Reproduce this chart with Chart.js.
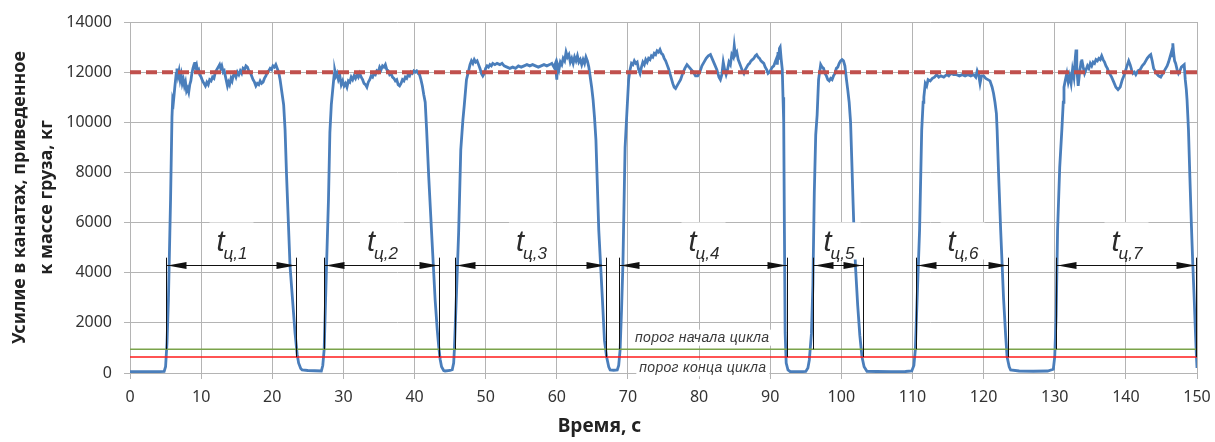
<!DOCTYPE html>
<html>
<head>
<meta charset="utf-8">
<script src="https://cdn.jsdelivr.net/npm/chart.js@4.4.1/dist/chart.umd.min.js"></script>
<style>
  html, body { margin: 0; padding: 0; background: #fff; }
</style>
</head>
<body>
<canvas id="grafico" width="1215" height="442"></canvas>
<script>
// усилие в канатах, [время с, кг]
const signal = [
  [0, 50], [1, 50], [2, 55], [3, 50], [4, 55], [4.8, 60],
  [5.0, 250], [5.2, 1200], [5.4, 2900], [5.7, 6900], [5.9, 10200], [6.0, 10900], [6.1, 10800], [6.3, 11400], [6.5, 11950],
  [6.6, 12150], [6.75, 11850], [6.9, 12050], [7.05, 11700], [7.2, 11900], [7.35, 11550], [7.5, 11700], [7.65, 11450],
  [7.8, 11600], [7.95, 11250], [8.1, 11350], [8.25, 11200], [8.4, 11500], [8.55, 11650], [8.7, 11950], [8.85, 12150],
  [9.0, 12300], [9.1, 12400], [9.2, 12200], [9.35, 12300], [9.5, 12050], [9.65, 12100], [9.8, 11900], [10.0, 11800],
  [10.2, 11650], [10.4, 11550], [10.6, 11450], [10.8, 11600], [11.0, 11500], [11.2, 11700], [11.4, 11650], [11.6, 11800],
  [11.8, 11750], [12.0, 12000], [12.2, 12100], [12.4, 12200], [12.6, 12300], [12.75, 12150], [12.9, 12250], [13.1, 12000],
  [13.25, 12050], [13.4, 11850], [13.55, 11650], [13.7, 11450], [13.85, 11600], [14.0, 11500], [14.2, 11750], [14.35, 11650],
  [14.5, 11850], [14.7, 11950], [14.9, 11800], [15.1, 12000], [15.3, 11900], [15.5, 12050], [15.7, 11950], [15.9, 12150],
  [16.1, 12100], [16.3, 12250], [16.5, 12200], [16.7, 12050], [16.9, 12000], [17.1, 11850], [17.3, 11700], [17.5, 11600],
  [17.7, 11450], [17.9, 11550], [18.1, 11500], [18.3, 11650], [18.5, 11550], [18.7, 11600], [18.9, 11750], [19.1, 11850],
  [19.3, 12000], [19.5, 12050], [19.7, 12150], [19.9, 12100], [20.1, 12250], [20.3, 12200], [20.5, 12300], [20.7, 12150],
  [20.9, 12000], [21.1, 11700], [21.3, 11300], [21.45, 11000],
  [21.6, 10700], [21.8, 9700], [22.0, 7950], [22.5, 4250], [23.2, 1600], [23.5, 750], [23.7, 400], [24.0, 180], [24.2, 120],
  [25.0, 100], [26.0, 90], [26.9, 80],
  [27.1, 300], [27.3, 950], [27.6, 4000], [27.9, 6900], [28.1, 9600], [28.3, 10700], [28.5, 11300], [28.7, 11900], [28.8, 12050],
  [28.95, 11850], [29.1, 11950], [29.3, 11700], [29.5, 11850], [29.7, 11500], [29.9, 11650], [30.1, 11450], [30.3, 11550],
  [30.5, 11400], [30.7, 11650], [30.9, 11600], [31.1, 11800], [31.3, 11700], [31.5, 11850], [31.7, 11750], [31.9, 11900],
  [32.1, 11800], [32.3, 11950], [32.5, 11800], [32.7, 11700], [32.9, 11550], [33.1, 11500], [33.3, 11400], [33.5, 11600],
  [33.7, 11700], [33.9, 11850], [34.1, 11800], [34.3, 11950], [34.5, 11900], [34.7, 12050], [34.9, 12000], [35.1, 12200],
  [35.3, 12100], [35.5, 12250], [35.7, 12200], [35.9, 12300], [36.1, 12100], [36.3, 12050], [36.5, 11900], [36.7, 11950],
  [36.9, 11800], [37.1, 11750], [37.3, 11650], [37.5, 11700], [37.7, 11500], [37.9, 11450], [38.1, 11550], [38.3, 11700],
  [38.5, 11650], [38.7, 11800], [38.9, 11750], [39.1, 11900], [39.3, 11850], [39.5, 12000], [39.7, 11950], [39.9, 12050],
  [40.1, 12000], [40.3, 12050], [40.5, 11950], [40.7, 11900], [40.9, 11700], [41.1, 11450], [41.3, 11100], [41.5, 10800],
  [41.7, 9700], [42.0, 7800], [42.4, 5600], [42.9, 2900], [43.2, 1700], [43.4, 1050], [43.6, 550], [43.8, 250], [44.1, 100],
  [44.3, 80], [45.0, 100], [45.3, 130],
  [45.5, 400], [45.6, 920], [45.9, 3200], [46.2, 5600], [46.5, 8900], [46.8, 10100], [47.0, 10700], [47.3, 11700], [47.6, 12050],
  [47.8, 12300], [48.0, 12450], [48.2, 12350], [48.4, 12500], [48.6, 12400], [48.8, 12450], [49.0, 12300], [49.2, 12150],
  [49.4, 11950], [49.6, 11850], [49.8, 11950], [50.0, 12150], [50.2, 12250], [50.4, 12200], [50.6, 12300], [50.8, 12250],
  [51.0, 12350], [51.3, 12300], [51.6, 12350], [52.0, 12300], [52.3, 12350], [52.6, 12250], [53.0, 12200], [53.4, 12150],
  [53.8, 12200], [54.2, 12150], [54.6, 12250], [55.0, 12200], [55.4, 12250], [55.8, 12300], [56.2, 12250], [56.6, 12300],
  [57.0, 12250], [57.4, 12200], [57.8, 12250], [58.2, 12300], [58.6, 12250], [59.0, 12300], [59.3, 12350], [59.6, 12200],
  [59.8, 12350], [60.0, 11700], [60.1, 12300], [60.3, 12100], [60.5, 12400], [60.7, 12300], [60.9, 12550], [61.1, 12450],
  [61.3, 12800], [61.5, 12600], [61.7, 12700], [61.9, 12400], [62.1, 12550], [62.3, 12350], [62.5, 12600], [62.7, 12450],
  [62.9, 12650], [63.1, 12400], [63.3, 12500], [63.5, 12300], [63.7, 12500], [63.9, 12350], [64.1, 12600], [64.3, 12450],
  [64.5, 12200], [64.7, 11800], [64.9, 11400], [65.1, 10900], [65.3, 10200],
  [65.5, 9300], [65.9, 5700], [66.4, 3000], [66.7, 1300], [67.0, 650], [67.3, 250], [67.5, 120], [68.0, 110], [68.5, 120],
  [68.7, 300],
  [68.9, 920], [69.1, 2500], [69.3, 4400], [69.5, 7500], [69.6, 9000], [69.8, 10100], [70.1, 11700], [70.3, 12100], [70.5, 12350],
  [70.7, 12300], [70.9, 12450], [71.1, 12350], [71.3, 12400], [71.5, 12100], [71.7, 11950], [71.9, 12200], [72.1, 12400],
  [72.3, 12300], [72.5, 12500], [72.7, 12400], [72.9, 12550], [73.1, 12500], [73.3, 12650], [73.5, 12600], [73.7, 12750],
  [73.9, 12700], [74.1, 12850], [74.3, 12800], [74.5, 12900], [74.7, 12750], [74.9, 12700], [75.1, 12550], [75.3, 12450],
  [75.5, 12300], [75.7, 12150], [75.9, 11950], [76.1, 11750], [76.3, 11550], [76.5, 11400], [76.7, 11350], [76.9, 11450],
  [77.1, 11550], [77.4, 11700], [77.7, 11950], [78.0, 12150], [78.3, 12300], [78.6, 12200], [78.9, 12100], [79.2, 12000],
  [79.5, 11850], [79.8, 11850], [80.1, 12000], [80.4, 12250], [80.7, 12400], [81.0, 12550], [81.3, 12650], [81.6, 12700],
  [81.9, 12500], [82.2, 12300], [82.5, 12100], [82.8, 11800], [83.0, 11700], [83.2, 11900], [83.4, 12400], [83.6, 12100],
  [83.8, 11900], [84.0, 12100], [84.2, 12400], [84.4, 12300], [84.6, 12700], [84.8, 12600], [84.95, 13050], [85.1, 12700],
  [85.3, 12800], [85.5, 12500], [85.7, 12350], [85.9, 12200], [86.1, 12050], [86.3, 11950], [86.5, 12100], [86.7, 12200],
  [86.9, 12300], [87.1, 12350], [87.3, 12450], [87.5, 12500], [87.7, 12550], [87.9, 12650], [88.1, 12700], [88.3, 12600],
  [88.5, 12550], [88.7, 12450], [88.9, 12400], [89.1, 12350], [89.3, 12200], [89.5, 12100], [89.7, 11950], [89.9, 12000],
  [90.1, 12100], [90.3, 12200], [90.5, 12250], [90.7, 12400], [90.9, 12550], [91.0, 12300], [91.1, 12800], [91.2, 12500],
  [91.3, 12950], [91.4, 13000], [91.55, 12500], [91.7, 12100],
  [91.8, 11000], [91.9, 10000], [92.0, 5600], [92.1, 1600], [92.25, 400], [92.5, 120], [92.8, 60], [94.0, 50], [95.0, 60],
  [95.3, 200],
  [95.5, 520], [95.8, 1580], [96.0, 3500], [96.2, 7200], [96.4, 9500], [96.6, 10300], [96.8, 11700], [97.1, 12300],
  [97.3, 12200], [97.5, 12150], [97.7, 11950], [97.9, 11850], [98.1, 11700], [98.3, 11650], [98.5, 11750], [98.7, 11700],
  [98.9, 11850], [99.1, 11950], [99.3, 12150], [99.5, 12200], [99.7, 12350], [99.9, 12450], [100.1, 12500], [100.3, 12450],
  [100.5, 12250], [100.7, 11750], [100.9, 11300], [101.1, 10800], [101.3, 10000],
  [101.5, 8200], [101.65, 6800], [101.8, 5500], [102.0, 4200], [102.3, 2700], [102.6, 1500], [102.9, 650], [103.2, 250],
  [103.6, 70], [105, 60], [107, 55], [109, 60], [109.9, 80], [110.2, 300],
  [110.4, 920], [110.7, 3300], [111.0, 5700], [111.3, 9700], [111.5, 10800], [111.6, 11000],
  [111.8, 11550], [112.0, 11450], [112.2, 11700], [112.5, 11650], [112.8, 11750], [113.1, 11800], [113.4, 11900],
  [113.7, 11800], [114.0, 11850], [114.4, 11800], [114.8, 11900], [115.1, 11850], [115.4, 11950], [115.8, 11900],
  [116.2, 11900], [116.6, 11850], [117.0, 11900], [117.4, 11850], [117.8, 11900], [118.2, 11850], [118.6, 11900],
  [118.9, 11800], [119.1, 12050], [119.3, 11900], [119.5, 11550], [119.7, 11850], [120.0, 11850], [120.3, 11750],
  [120.6, 11700], [120.9, 11650], [121.2, 11400], [121.4, 11150], [121.6, 10800], [121.8, 10350], [121.9, 9700],
  [122.1, 8000], [122.4, 5700], [122.8, 3000], [123.1, 1500], [123.3, 650], [123.6, 250], [123.8, 120], [125, 80],
  [127, 70], [129, 80], [129.8, 150],
  [130.0, 650], [130.2, 2300], [130.4, 5700], [130.7, 8200], [131.0, 9700], [131.2, 10800], [131.3, 11400], [131.5, 11700],
  [131.7, 11950],
  [131.9, 11600], [132.1, 11850], [132.3, 11550], [132.5, 12100], [132.7, 11800], [132.9, 12600], [133.0, 12900],
  [133.1, 12200], [133.2, 11800], [133.3, 11450], [133.5, 12000], [133.7, 12400], [133.8, 12500], [134.0, 12200],
  [134.2, 11950], [134.4, 12100], [134.6, 12250], [134.8, 12150], [135.0, 12350], [135.2, 12250], [135.4, 12400],
  [135.6, 12350], [135.8, 12500], [136.0, 12450], [136.2, 12550], [136.4, 12500], [136.6, 12650], [136.8, 12500],
  [137.0, 12400], [137.2, 12250], [137.4, 12150], [137.6, 12000], [137.8, 11900], [138.0, 11800], [138.3, 11600],
  [138.6, 11400], [138.9, 11300], [139.2, 11400], [139.5, 11700], [139.8, 11900], [140.1, 12200], [140.4, 12450],
  [140.6, 12300], [140.8, 12100], [141.0, 11950], [141.2, 12000], [141.4, 11900], [141.7, 12050], [142.0, 12100],
  [142.3, 12250], [142.6, 12350], [142.8, 12450], [143.0, 12550], [143.3, 12650], [143.5, 12700], [143.7, 12450],
  [143.9, 12150], [144.1, 12050], [144.3, 11950], [144.6, 11850], [144.9, 11800], [145.2, 11950], [145.5, 12100],
  [145.8, 12250], [146.0, 12400], [146.2, 12600], [146.4, 12800], [146.5, 12650], [146.6, 13150], [146.7, 12800],
  [146.85, 12450], [147.0, 12350], [147.2, 12100], [147.4, 11950], [147.6, 12050], [147.8, 12200], [148.0, 12250],
  [148.2, 12300], [148.35, 11700], [148.5, 11300], [148.6, 10900],
  [148.8, 9700], [149.0, 7800], [149.2, 6000], [149.4, 4400], [149.6, 3000], [149.8, 1500], [149.9, 800], [150.0, 200]
];

const nominalLoad = 12000;   // кг
const startLevel = 950;      // порог начала цикла
const endLevel = 640;        // порог конца цикла

// границы циклов, с
const cycleStart = [5.0, 27.3, 45.7, 68.8, 96.0, 110.5, 130.2];
const cycleEnd = [23.4, 43.5, 66.9, 92.4, 103.0, 123.4, 149.9];
const cycleLabels = ['ц,1', 'ц,2', 'ц,3', 'ц,4', 'ц,5', 'ц,6', 'ц,7'];
const arrowLevel = 4300;
const markTop = 4600;

const xMin = 0, xMax = 150, xStep = 10;
const yMin = 0, yMax = 14000, yStep = 2000;
const xTitle = 'Время, с';

const gridColor = '#b4b4b4';
const tickFont = { family: '"Noto Sans"', size: 16 };

function horiz(v) {
  return [{ x: xMin, y: v }, { x: xMax, y: v }];
}

const annotate = {
  id: 'annotate',
  afterDatasetsDraw(chart) {
    const { ctx, scales: { x, y } } = chart;
    ctx.save();
    const ay = Math.round(y.getPixelForValue(arrowLevel)) + 0.5;
    const top = y.getPixelForValue(markTop);

    // подписи порогов
    ctx.font = 'italic 14px "Liberation Sans"';
    ctx.letterSpacing = '0.3px';
    ctx.textBaseline = 'alphabetic';
    const thr = [
      ['порог начала цикла', 71.0, 1250],
      ['порог конца цикла', 71.6, 30]
    ];
    thr.forEach(function (t) {
      const px = x.getPixelForValue(t[1]);
      const py = y.getPixelForValue(t[2]);
      const w = ctx.measureText(t[0]).width;
      ctx.fillStyle = '#fff';
      ctx.fillRect(px - 3, py - 12, w + 6, 16);
      ctx.fillStyle = '#3a3a3a';
      ctx.fillText(t[0], px, py);
    });
    ctx.letterSpacing = '0px';

    cycleStart.forEach(function (s, i) {
      const x0 = Math.round(x.getPixelForValue(s)) + 0.5;
      const x1 = Math.round(x.getPixelForValue(cycleEnd[i])) + 0.5;
      const cx = (x0 + x1) / 2;

      // фон подписи
      ctx.fillStyle = '#fff';
      ctx.fillRect(cx - 22, ay - 43, 44, 37);
      ctx.fillStyle = '#2a2a2a';
      ctx.font = 'italic 29px "Liberation Sans"';
      ctx.fillText('t', cx - 15, ay - 15);
      ctx.font = 'italic 17px "Liberation Sans"';
      ctx.fillText(cycleLabels[i], cx - 8, ay - 7);

      // выносные линии
      ctx.strokeStyle = '#111';
      ctx.lineWidth = 1;
      ctx.beginPath();
      ctx.moveTo(x0, top);
      ctx.lineTo(x0, y.getPixelForValue(startLevel));
      ctx.moveTo(x1, top);
      ctx.lineTo(x1, y.getPixelForValue(endLevel));
      ctx.moveTo(x0, ay);
      ctx.lineTo(x1, ay);
      ctx.stroke();

      // стрелки
      ctx.fillStyle = '#111';
      ctx.beginPath();
      ctx.moveTo(x0 + 1, ay);
      ctx.lineTo(x0 + 20, ay - 3.5);
      ctx.lineTo(x0 + 20, ay + 3.5);
      ctx.closePath();
      ctx.moveTo(x1 - 1, ay);
      ctx.lineTo(x1 - 20, ay - 3.5);
      ctx.lineTo(x1 - 20, ay + 3.5);
      ctx.closePath();
      ctx.fill();
    });

    // подпись оси X (в оригинале смещена влево от центра)
    ctx.font = 'bold 19px "Noto Sans"';
    ctx.fillStyle = '#222';
    ctx.textAlign = 'center';
    ctx.textBaseline = 'middle';
    ctx.fillText(xTitle, x.left + (x.right - x.left) * 0.44, chart.height - 15);
    ctx.restore();
  }
};

new Chart(document.getElementById('grafico'), {
  type: 'line',
  data: {
    datasets: [
      {
        data: horiz(nominalLoad),
        borderColor: '#c0504d',
        borderWidth: 4,
        borderDash: [11, 5]
      },
      {
        data: horiz(startLevel),
        borderColor: '#7aa34a',
        borderWidth: 1.5
      },
      {
        data: horiz(endLevel),
        borderColor: '#ff1a1a',
        borderWidth: 1.5
      },
      {
        data: signal.map(function (p) { return { x: p[0], y: p[1] }; }),
        borderColor: '#4a7ebb',
        borderWidth: 2.8
      }
    ]
  },
  options: {
    responsive: false,
    animation: false,
    layout: { padding: { top: 22, right: 18, left: 0, bottom: 0 } },
    elements: { point: { radius: 0 }, line: { tension: 0 } },
    plugins: { legend: { display: false }, tooltip: { enabled: false } },
    scales: {
      x: {
        type: 'linear',
        min: xMin,
        max: xMax,
        ticks: { stepSize: xStep, font: tickFont, color: '#333', padding: 9 },
        grid: { color: gridColor, tickLength: 6 },
        border: { color: gridColor },
        afterFit: function (s) {
          s.height = 69;
          s.paddingLeft = 0;
          s.paddingRight = 0;
        }
      },
      y: {
        min: yMin,
        max: yMax,
        ticks: {
          stepSize: yStep, font: tickFont, color: '#333', padding: 12,
          callback: function (v) { return String(v); }
        },
        grid: { color: gridColor, tickLength: 6 },
        border: { color: gridColor },
        title: {
          display: true,
          text: ['Усилие в канатах, приведенное', 'к массе груза, кг'],
          color: '#222',
          font: { family: '"Noto Sans"', size: 18, weight: 'bold', lineHeight: 1.5 },
          padding: { top: 6.5, bottom: 0 }
        },
        afterFit: function (s) { s.width = 130; }
      }
    }
  },
  plugins: [annotate]
});
</script>
</body>
</html>
